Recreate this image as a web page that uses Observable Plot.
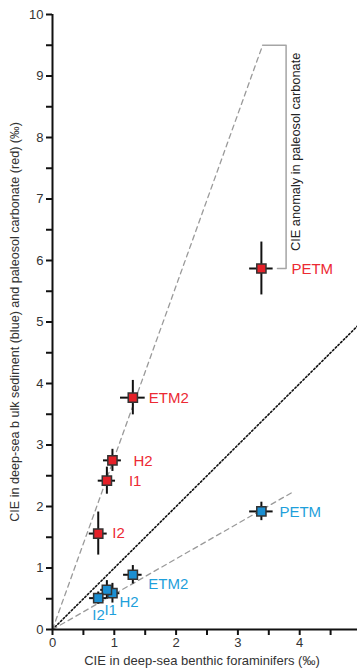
<!DOCTYPE html>
<html><head><meta charset="utf-8">
<script src="https://cdn.jsdelivr.net/npm/d3@7"></script>
<script src="https://cdn.jsdelivr.net/npm/@observablehq/plot@0.6"></script>
<style>html,body{margin:0;padding:0;background:#fff;overflow:hidden}</style>
</head><body><div id="chart"></div>
<script>
// Event names
const names = ["PETM", "ETM2", "H2", "I1", "I2"];
// Red: paleosol carbonate CIE vs benthic foraminifer CIE
const redX = [3.38, 1.30, 0.97, 0.88, 0.74];
const redY = [5.87, 3.77, 2.75, 2.42, 1.56];
const redXErr = [0.19, 0.20, 0.145, 0.14, 0.145];
const redYErr = [0.43, 0.28, 0.18, 0.22, 0.35];
// Blue: bulk sediment CIE vs benthic foraminifer CIE
const blueX = [3.38, 1.30, 0.97, 0.88, 0.74];
const blueY = [1.92, 0.89, 0.59, 0.645, 0.51];
const blueXErr = [0.19, 0.15, 0.12, 0.10, 0.14];
const blueYErr = [0.15, 0.15, 0.16, 0.15, 0.10];
// Reference lines
const oneToOne = [[0, 0], [5, 5]];
const upperTrend = [[0, 0], [3.4, 9.5]];
const lowerTrend = [[0, 0], [3.88, 2.23]];
const bracket = [[3.4, 9.5], [3.78, 9.5], [3.78, 5.87], [3.64, 5.87]];
// Ticks
const xTicks = [0, 0.5, 1, 1.5, 2, 2.5, 3, 3.5, 4, 4.5, 5];
const yTicks = [0, 0.5, 1, 1.5, 2, 2.5, 3, 3.5, 4, 4.5, 5, 5.5, 6, 6.5, 7, 7.5, 8, 8.5, 9, 9.5, 10];
const xLabel = "CIE in deep-sea benthic foraminifers (‰)";
const yLabel = "CIE in deep-sea b ulk sediment (blue) and paleosol carbonate (red) (‰)";
const annotation = "CIE anomaly in paleosol carbonate";

const RED = "#e52129", BLUE = "#1b8fd2", RED_T = "#ec2a33", BLUE_T = "#1e9fdb";
const rows = (xs, ys, xe, ye) => names.map((n, i) => ({name: n, x: xs[i], y: ys[i], xe: xe[i], ye: ye[i]}));
const red = rows(redX, redY, redXErr, redYErr);
const blue = rows(blueX, blueY, blueXErr, blueYErr);
const all = red.concat(blue);

const fmt = d => Number.isInteger(d) ? String(d) : "";
const lab = (data, name, color, dx, dy) => Plot.text(data.filter(d => d.name === name), {
  x: "x", y: "y", text: "name", fill: color, fontSize: 15, textAnchor: "start", lineAnchor: "middle", dx, dy
});

const chart = Plot.plot({
  width: 357,
  height: 672,
  marginLeft: 52,
  marginRight: -4,
  marginTop: 14,
  marginBottom: 43,
  x: {domain: [0, 5]},
  y: {domain: [0, 10]},
  style: {fontFamily: "'Liberation Sans', Arial, sans-serif", fontSize: "13px", color: "#333", background: "#fff"},
  marks: [
    Plot.line(oneToOne, {stroke: "#111", strokeWidth: 1.6, strokeDasharray: "1.6 2.2"}),
    Plot.line(upperTrend, {stroke: "#9a9a9a", strokeWidth: 1.3, strokeDasharray: "5 4"}),
    Plot.line(lowerTrend, {stroke: "#9a9a9a", strokeWidth: 1.3, strokeDasharray: "5 4"}),
    Plot.line(bracket, {stroke: "#a5a5a5", strokeWidth: 1.5}),
    Plot.text([annotation], {
      x: bracket[1][0], y: (bracket[1][1] + bracket[2][1]) / 2, rotate: -90, dx: 10, dy: -5,
      textAnchor: "middle", lineAnchor: "middle", fontSize: 12.8, fill: "#222"
    }),
    Plot.axisX({ticks: xTicks, tickFormat: fmt, tickSize: 6, tickPadding: 2, stroke: "#111", strokeWidth: 2, label: null}),
    Plot.axisY({ticks: yTicks, tickFormat: fmt, tickSize: 6, tickPadding: 3, stroke: "#111", strokeWidth: 2, label: null}),
    Plot.ruleX([0], {y1: 0, y2: 10, stroke: "#111", strokeWidth: 2}),
    Plot.ruleY([0], {x1: 0, x2: 5, stroke: "#111", strokeWidth: 2}),
    Plot.text([xLabel], {frameAnchor: "bottom", dy: 31, dx: -5, textAnchor: "middle", lineAnchor: "middle", fontSize: 13, fill: "#333"}),
    Plot.text([yLabel], {frameAnchor: "left", rotate: -90, dx: -38, textAnchor: "middle", lineAnchor: "middle", fontSize: 12.6, fill: "#333"}),
    Plot.ruleY(all, {y: "y", x1: d => d.x - d.xe, x2: d => d.x + d.xe, stroke: "#111", strokeWidth: 2}),
    Plot.ruleX(all, {x: "x", y1: d => d.y - d.ye, y2: d => d.y + d.ye, stroke: "#111", strokeWidth: 2}),
    Plot.dot(red, {x: "x", y: "y", symbol: "square", r: 5.2, fill: RED, stroke: "#333", strokeWidth: 1.5}),
    Plot.dot(blue, {x: "x", y: "y", symbol: "square", r: 5.2, fill: BLUE, stroke: "#333", strokeWidth: 1.5}),
    lab(red, "PETM", RED_T, 30, 1),
    lab(red, "ETM2", RED_T, 16, 1),
    lab(red, "H2", RED_T, 21, 1),
    lab(red, "I1", RED_T, 22, 1),
    lab(red, "I2", RED_T, 14, 0),
    lab(blue, "PETM", BLUE_T, 18, 1),
    lab(blue, "ETM2", BLUE_T, 15.5, 9),
    lab(blue, "H2", BLUE_T, 7, 9),
    lab(blue, "I1", BLUE_T, -2.5, 20),
    lab(blue, "I2", BLUE_T, -6, 17)
  ]
});
document.getElementById("chart").appendChild(chart);
</script>
</body></html>
